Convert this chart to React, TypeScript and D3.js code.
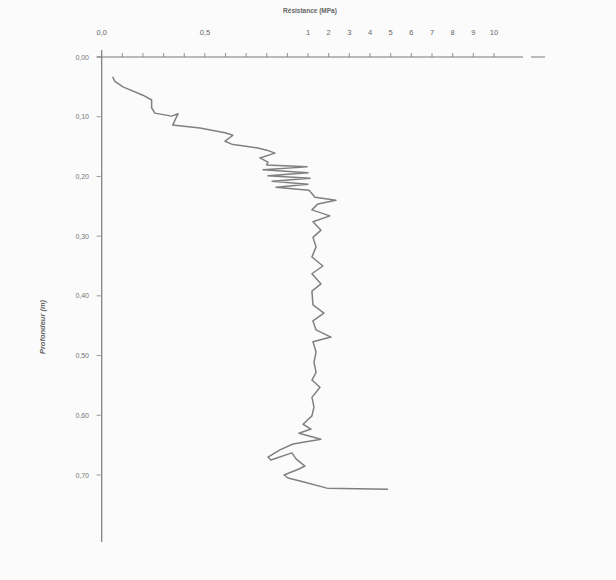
import React from "react";
import * as d3 from "d3";

// profil penetrometrique : profondeur (m) / resistance (MPa)
const DEPTH = [
  0.033, 0.041, 0.05, 0.064, 0.072, 0.085, 0.094, 0.099, 0.095, 0.114, 0.119,
  0.127, 0.131, 0.141, 0.146, 0.152, 0.156, 0.161, 0.169, 0.176, 0.181, 0.184,
  0.189, 0.194, 0.199, 0.203, 0.208, 0.213, 0.218, 0.223, 0.235, 0.24, 0.246,
  0.256, 0.266, 0.276, 0.29, 0.302, 0.318, 0.335, 0.35, 0.363, 0.38, 0.392,
  0.415, 0.429, 0.442, 0.457, 0.469, 0.477, 0.494, 0.511, 0.528, 0.541, 0.553,
  0.57, 0.586, 0.601, 0.615, 0.623, 0.63, 0.64, 0.648, 0.658, 0.67, 0.675,
  0.663, 0.673, 0.685, 0.69, 0.7, 0.705, 0.71, 0.722, 0.724,
];
const RESISTANCE = [
  0.053, 0.064, 0.103, 0.2, 0.242, 0.242, 0.258, 0.339, 0.37, 0.344, 0.476,
  0.598, 0.636, 0.598, 0.63, 0.751, 0.8, 0.84, 0.767, 0.806, 0.8, 0.995,
  0.782, 1.0, 0.806, 1.1, 0.826, 1.0, 0.845, 1.05, 1.34, 2.35, 1.48,
  1.19, 2.06, 1.24, 1.63, 1.24, 1.39, 1.19, 1.72, 1.19, 1.63, 1.19,
  1.24, 1.77, 1.24, 1.39, 2.11, 1.24, 1.39, 1.29, 1.39, 1.19, 1.58,
  1.19, 1.29, 1.19, 0.976, 1.145, 0.956, 1.628, 0.927, 0.864, 0.806, 0.82,
  0.922, 0.942, 0.985, 0.956, 0.884, 0.903, 0.961, 1.92, 4.87,
];

const X_TICKS = [0.1, 0.2, 0.3, 0.4, 0.5, 0.6, 0.7, 0.8, 0.9, 1, 2, 3, 4, 5, 6, 7, 8, 9, 10];
const X_LABELS = [0, 0.5, 1, 2, 3, 4, 5, 6, 7, 8, 9, 10];
const Y_TICKS = [0, 0.1, 0.2, 0.3, 0.4, 0.5, 0.6, 0.7];

const W = 616;
const H = 580;
const GREY = "#7a7a7a";
const FONT = "Liberation Sans, Arial, sans-serif";

const App = () => {
  // echelle mixte : lineaire 0-1 puis 1-10 comprime
  const x = d3.scaleLinear().domain([0, 1, 10]).range([101.7, 308, 494]);
  const y = d3.scaleLinear().domain([0, 0.7]).range([57, 475]);

  const points = DEPTH.map((d, i) => [RESISTANCE[i], d] as [number, number]);
  const line = d3
    .line<[number, number]>()
    .x((p) => x(p[0]))
    .y((p) => y(p[1]))
    .curve(d3.curveLinear);

  const fmtX = (v: number) => (v < 1 ? d3.format(".1f")(v).replace(".", ",") : String(v));
  const fmtY = (v: number) => d3.format(".2f")(v).replace(".", ",");

  const x0 = x(0);
  const y0 = y(0);

  return (
    <svg
      width={W}
      height={H}
      style={{ position: "absolute", left: 0, top: 0, background: "#fbfbfb" }}
      fontFamily={FONT}
    >
      {/* axe horizontal (haut) */}
      <text x={310} y={13} fontSize={6.5} fontWeight="bold" fill="#666" textAnchor="middle">
        Résistance (MPa)
      </text>
      <line x1={x0 - 5} x2={523} y1={y0} y2={y0} stroke={GREY} strokeWidth={1.2} />
      <line x1={531} x2={545} y1={y0} y2={y0} stroke={GREY} strokeWidth={1} />
      {X_TICKS.map((t) => (
        <line key={t} x1={x(t)} x2={x(t)} y1={y0} y2={y0 - 4} stroke={GREY} strokeWidth={0.8} />
      ))}
      {X_LABELS.map((t) => (
        <text key={t} x={x(t)} y={35} fontSize={7.5} fill="#666" textAnchor="middle">
          {fmtX(t)}
        </text>
      ))}

      {/* axe vertical */}
      <line x1={x0} x2={x0} y1={50} y2={542} stroke={GREY} strokeWidth={1.2} />
      {Y_TICKS.map((t) => (
        <g key={t}>
          <line x1={x0 - 5} x2={x0 - 1} y1={y(t)} y2={y(t)} stroke={GREY} strokeWidth={0.8} />
          <text x={89} y={y(t) + 2.5} fontSize={7} fill="#777" textAnchor="end">
            {fmtY(t)}
          </text>
        </g>
      ))}
      <text
        transform={`translate(45, 327) rotate(-90)`}
        fontSize={7.5}
        fontWeight="bold"
        fontStyle="italic"
        fill="#666"
        textAnchor="middle"
      >
        Profondeur (m)
      </text>

      {/* courbe */}
      <path d={line(points) ?? ""} fill="none" stroke="#808080" strokeWidth={1.5} strokeLinejoin="round" />
    </svg>
  );
};

export default App;
